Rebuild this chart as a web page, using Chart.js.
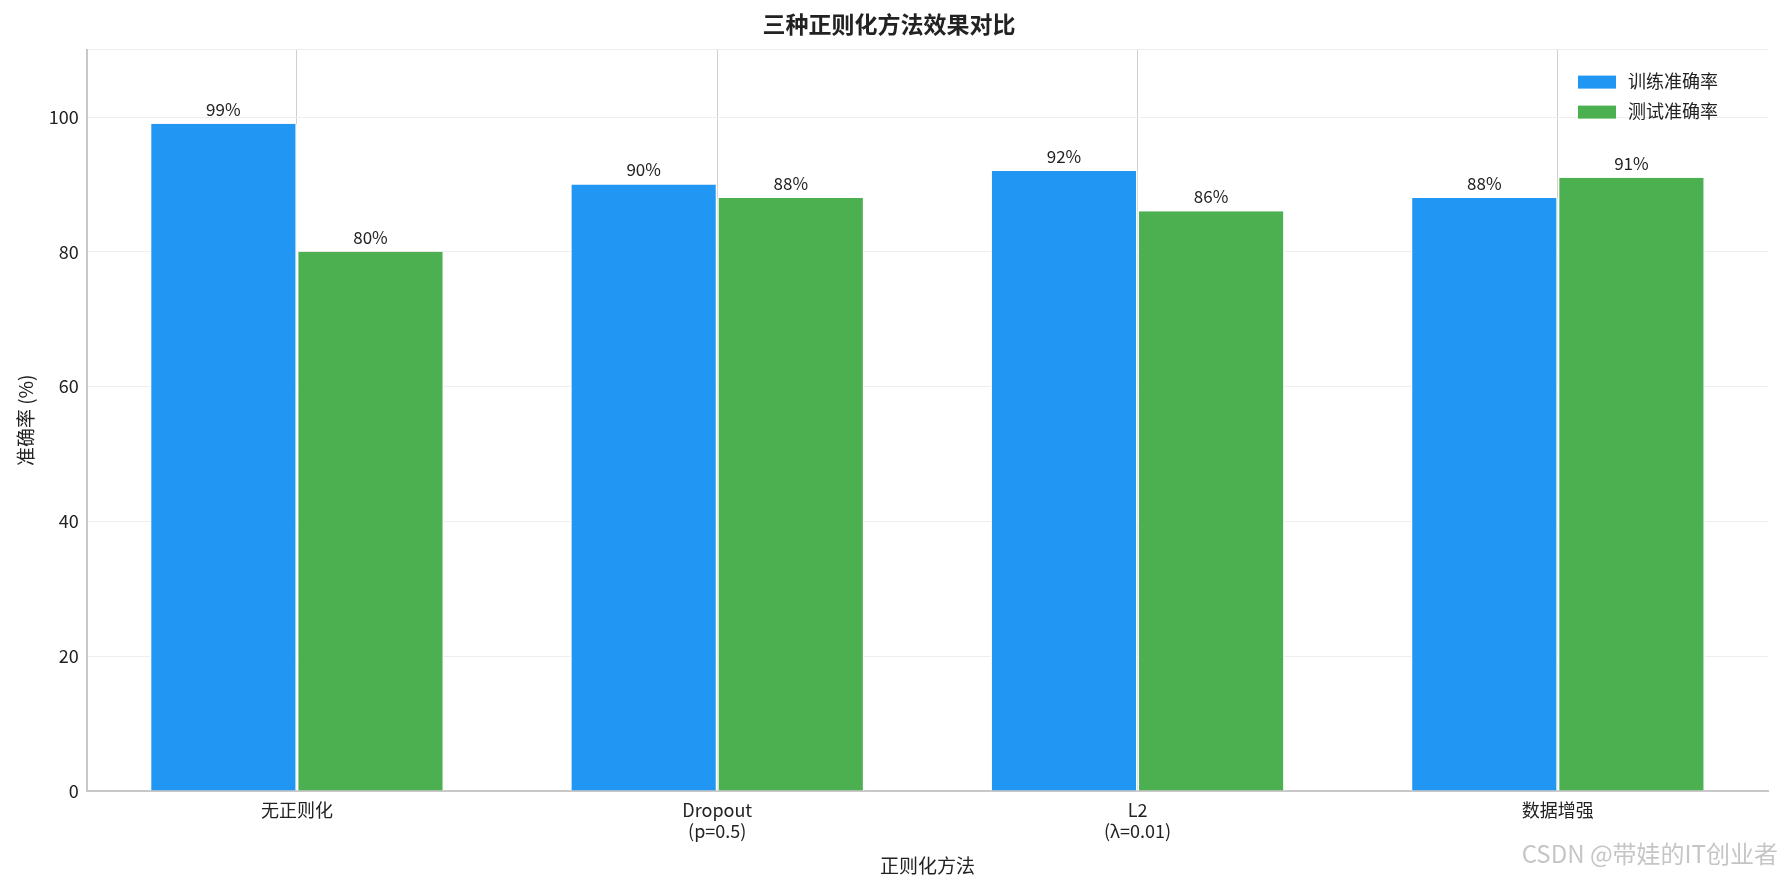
<!DOCTYPE html><html><head><meta charset="utf-8">
<script src="https://cdn.jsdelivr.net/npm/chart.js@4"></script>
<style>html,body{margin:0;background:#fff}#w{width:1784px;height:885px}</style></head><body>
<div id="w"><canvas id="c"></canvas></div>
<script>
const categories=[["无正则化"],["Dropout","(p=0.5)"],["L2","(λ=0.01)"],["数据增强"]];
const trainAcc=[99,90,92,88];
const testAcc=[80,88,86,91];
const seriesNames=["训练准确率","测试准确率"];
const colors=["#2196F3","#4CAF50"];
const F="'Noto Sans CJK SC','Noto Sans',sans-serif";
const extras={id:'extras',afterDatasetsDraw(ch){
 const c=ch.ctx;c.save();c.font="17px "+F;c.fillStyle="#222";c.textAlign="center";c.textBaseline="bottom";
 ch.data.datasets.forEach((d,i)=>{ch.getDatasetMeta(i).data.forEach((b,j)=>{c.fillText(d.data[j]+"%",b.x,b.y-6);});});
 const a=ch.chartArea;c.textAlign="left";c.textBaseline="middle";c.font="18px "+F;
 seriesNames.forEach((n,i)=>{const y=a.top+32+i*30;c.fillStyle=colors[i];c.fillRect(a.right-190,y-6,38,13);c.fillStyle="#222";c.fillText(n,a.right-140,y);});
 c.font="24px "+F;c.fillStyle="rgba(150,150,150,0.55)";c.textAlign="right";c.fillText("CSDN @带娃的IT创业者",1778,854);
 c.restore();}};
new Chart(document.getElementById('c'),{type:'bar',plugins:[extras],
 data:{labels:categories,datasets:[
  {label:seriesNames[0],data:trainAcc,backgroundColor:colors[0],borderColor:"#fff",borderWidth:{left:1.5,right:1.5,top:0,bottom:0},categoryPercentage:0.7,barPercentage:1},
  {label:seriesNames[1],data:testAcc,backgroundColor:colors[1],borderColor:"#fff",borderWidth:{left:1.5,right:1.5,top:0,bottom:0},categoryPercentage:0.7,barPercentage:1}]},
 options:{responsive:true,maintainAspectRatio:false,animation:false,
  layout:{padding:{left:10,right:16,top:4,bottom:4}},
  plugins:{legend:{display:false},tooltip:{enabled:false},
   title:{display:true,text:"三种正则化方法效果对比",font:{family:F,size:23,weight:'bold'},color:"#222",padding:{top:6,bottom:12}}},
  scales:{
   x:{grid:{offset:false,color:"#cfcfcf",drawTicks:false},border:{color:"#c8c8c8",width:2},
      ticks:{font:{family:F,size:18},color:"#222",padding:8},
      title:{display:true,text:"正则化方法",font:{family:F,size:19},color:"#222",padding:{top:4}}},
   y:{min:0,max:110,grid:{color:"#eeeeee",drawTicks:false},border:{color:"#c8c8c8",width:2},
      ticks:{stepSize:20,font:{family:F,size:18},color:"#222",padding:8,callback:v=>v%20===0&&v<=100?v:''},
      title:{display:true,text:"准确率 (%)",font:{family:F,size:19},color:"#222"}}}}});
</script></body></html>
